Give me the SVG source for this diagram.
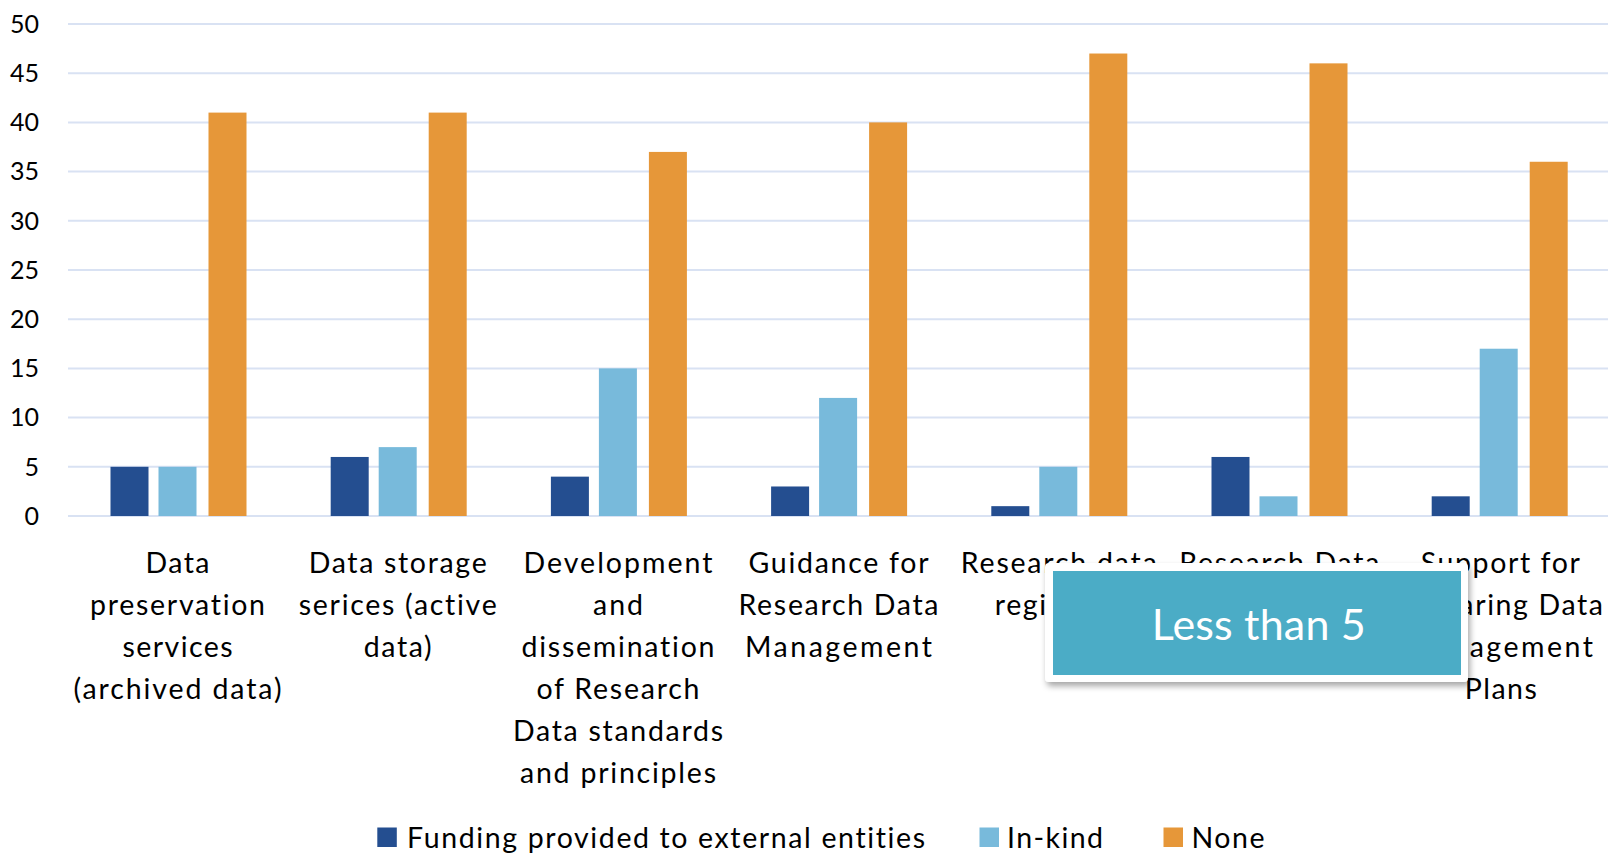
<svg xmlns="http://www.w3.org/2000/svg" width="1608" height="855" viewBox="0 0 1608 855">
<style>
text{font-variant-ligatures:none;font-feature-settings:"liga" 0,"clig" 0}
.grid{stroke:#D9E2F3;stroke-width:2}
.ytick{font-family:Lato,"Liberation Sans",sans-serif;font-size:25px;fill:#000;text-anchor:end}
.cat{font-family:Lato,"Liberation Sans",sans-serif;font-size:28.5px;fill:#000;text-anchor:middle}
.leg{font-family:Lato,"Liberation Sans",sans-serif;font-size:28.5px;fill:#000}
.fund{fill:#244E90}
.kind{fill:#78BADB}
.none{fill:#E69739}
.callout{font-family:Lato,"Liberation Sans",sans-serif;font-size:43px;fill:#FFFFFF;text-anchor:middle}
</style>
<defs>
<filter id="shadow" x="-10%" y="-20%" width="120%" height="150%">
<feDropShadow dx="2" dy="4" stdDeviation="3" flood-color="#000" flood-opacity="0.35"/>
</filter>
</defs>
<rect width="1608" height="855" fill="#FFFFFF"/>
<g id="gridlines">
<line class="grid" x1="68" y1="516" x2="1608" y2="516"/>
<line class="grid" x1="68" y1="466.8" x2="1608" y2="466.8"/>
<line class="grid" x1="68" y1="417.6" x2="1608" y2="417.6"/>
<line class="grid" x1="68" y1="368.4" x2="1608" y2="368.4"/>
<line class="grid" x1="68" y1="319.2" x2="1608" y2="319.2"/>
<line class="grid" x1="68" y1="270" x2="1608" y2="270"/>
<line class="grid" x1="68" y1="220.8" x2="1608" y2="220.8"/>
<line class="grid" x1="68" y1="171.6" x2="1608" y2="171.6"/>
<line class="grid" x1="68" y1="122.4" x2="1608" y2="122.4"/>
<line class="grid" x1="68" y1="73.2" x2="1608" y2="73.2"/>
<line class="grid" x1="68" y1="24" x2="1608" y2="24"/>
</g>
<g id="y-axis">
<text class="ytick" x="39" y="524.8">0</text>
<text class="ytick" x="39" y="475.6">5</text>
<text class="ytick" x="39" y="426.4">10</text>
<text class="ytick" x="39" y="377.2">15</text>
<text class="ytick" x="39" y="328">20</text>
<text class="ytick" x="39" y="278.8">25</text>
<text class="ytick" x="39" y="229.6">30</text>
<text class="ytick" x="39" y="180.4">35</text>
<text class="ytick" x="39" y="131.2">40</text>
<text class="ytick" x="39" y="82">45</text>
<text class="ytick" x="39" y="32.8">50</text>
</g>
<g id="cat-1">
<rect class="fund" x="110.5" y="466.8" width="38" height="49.2"/>
<rect class="kind" x="158.5" y="466.8" width="38" height="49.2"/>
<rect class="none" x="208.5" y="112.6" width="38" height="403.4"/>
<text class="cat" x="177.5" y="573" textLength="64" lengthAdjust="spacing">Data</text>
<text class="cat" x="177.5" y="615" textLength="175" lengthAdjust="spacing">preservation</text>
<text class="cat" x="177.5" y="657" textLength="110" lengthAdjust="spacing">services</text>
<text class="cat" x="177.5" y="699" textLength="208" lengthAdjust="spacing">(archived data)</text>
</g>
<g id="cat-2">
<rect class="fund" x="330.7" y="456.96" width="38" height="59.04"/>
<rect class="kind" x="378.7" y="447.12" width="38" height="68.88"/>
<rect class="none" x="428.7" y="112.6" width="38" height="403.4"/>
<text class="cat" x="397.7" y="573" textLength="178" lengthAdjust="spacing">Data storage</text>
<text class="cat" x="397.7" y="615" textLength="198" lengthAdjust="spacing">serices (active</text>
<text class="cat" x="397.7" y="657" textLength="68" lengthAdjust="spacing">data)</text>
</g>
<g id="cat-3">
<rect class="fund" x="550.9" y="476.64" width="38" height="39.36"/>
<rect class="kind" x="598.9" y="368.4" width="38" height="147.6"/>
<rect class="none" x="648.9" y="151.92" width="38" height="364.08"/>
<text class="cat" x="618" y="573" textLength="189" lengthAdjust="spacing">Development</text>
<text class="cat" x="618" y="615" textLength="50" lengthAdjust="spacing">and</text>
<text class="cat" x="618" y="657" textLength="193" lengthAdjust="spacing">dissemination</text>
<text class="cat" x="618" y="699" textLength="163" lengthAdjust="spacing">of Research</text>
<text class="cat" x="618" y="741" textLength="210" lengthAdjust="spacing">Data standards</text>
<text class="cat" x="618" y="783" textLength="196" lengthAdjust="spacing">and principles</text>
</g>
<g id="cat-4">
<rect class="fund" x="771.1" y="486.48" width="38" height="29.52"/>
<rect class="kind" x="819.1" y="397.92" width="38" height="118.08"/>
<rect class="none" x="869.1" y="122.4" width="38" height="393.6"/>
<text class="cat" x="838.5" y="573" textLength="180" lengthAdjust="spacing">Guidance for</text>
<text class="cat" x="838.5" y="615" textLength="200" lengthAdjust="spacing">Research Data</text>
<text class="cat" x="838.5" y="657" textLength="187" lengthAdjust="spacing">Management</text>
</g>
<g id="cat-5">
<rect class="fund" x="991.3" y="506.16" width="38" height="9.84"/>
<rect class="kind" x="1039.3" y="466.8" width="38" height="49.2"/>
<rect class="none" x="1089.3" y="53.52" width="38" height="462.48"/>
<text class="cat" x="1058.8" y="573" textLength="196" lengthAdjust="spacing">Research data</text>
<text class="cat" x="1058.8" y="615" textLength="128" lengthAdjust="spacing">registries</text>
</g>
<g id="cat-6">
<rect class="fund" x="1211.5" y="456.96" width="38" height="59.04"/>
<rect class="kind" x="1259.5" y="496.32" width="38" height="19.68"/>
<rect class="none" x="1309.5" y="63.36" width="38" height="452.64"/>
<text class="cat" x="1279.3" y="573" textLength="200" lengthAdjust="spacing">Research Data</text>
</g>
<g id="cat-7">
<rect class="fund" x="1431.7" y="496.32" width="38" height="19.68"/>
<rect class="kind" x="1479.7" y="348.72" width="38" height="167.28"/>
<rect class="none" x="1529.7" y="161.76" width="38" height="354.24"/>
<text class="cat" x="1500.3" y="573" textLength="159" lengthAdjust="spacing">Support for</text>
<text class="cat" x="1514" y="615" textLength="178" lengthAdjust="spacing">Sharing Data</text>
<text class="cat" x="1499.5" y="657" textLength="187" lengthAdjust="spacing">Management</text>
<text class="cat" x="1500.8" y="699" textLength="72" lengthAdjust="spacing">Plans</text>
</g>
<g id="legend">
<rect class="fund" x="377.3" y="827.5" width="19.5" height="19.5"/>
<text class="leg" x="407" y="848" textLength="518" lengthAdjust="spacing">Funding provided to external entities</text>
<rect class="kind" x="979.5" y="827.5" width="19.5" height="19.5"/>
<text class="leg" x="1007" y="848" textLength="96" lengthAdjust="spacing">In-kind</text>
<rect class="none" x="1163.5" y="827.5" width="19.5" height="19.5"/>
<text class="leg" x="1191.5" y="848" textLength="73" lengthAdjust="spacing">None</text>
</g>
<g id="callout">
<rect x="1045" y="563" width="423" height="119" rx="4" ry="4" fill="#FFFFFF" filter="url(#shadow)"/>
<rect x="1053" y="571" width="408" height="104" fill="#4BACC6"/>
<text class="callout" x="1258.7" y="640" textLength="214" lengthAdjust="spacing">Less than 5</text>
</g>
</svg>
